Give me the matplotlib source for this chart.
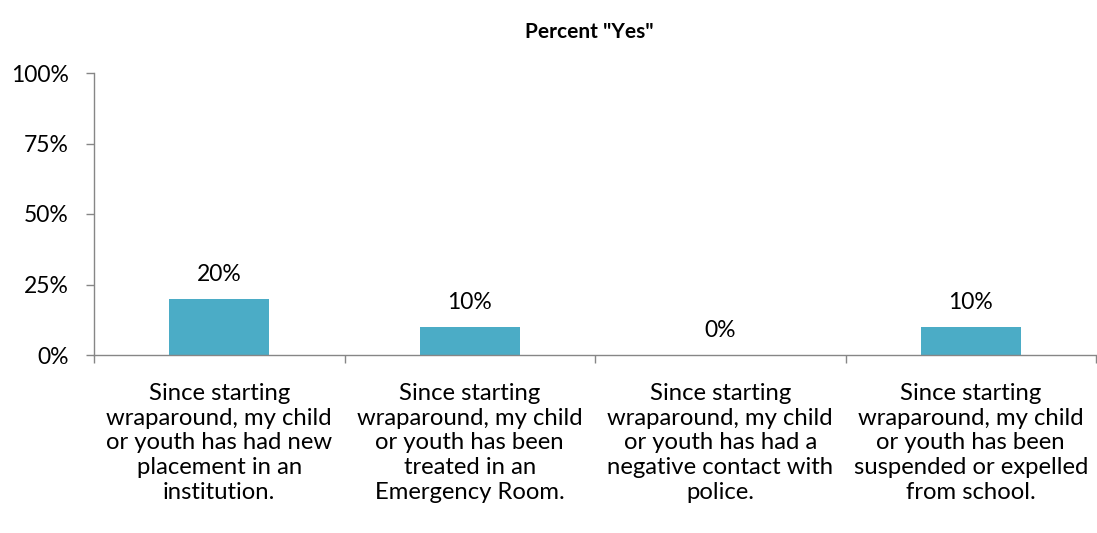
import matplotlib
matplotlib.use("Agg")
import matplotlib.pyplot as plt
from matplotlib.ticker import FixedLocator, PercentFormatter

categories = [
    "Since starting\nwraparound, my child\nor youth has had new\nplacement in an\ninstitution.",
    "Since starting\nwraparound, my child\nor youth has been\ntreated in an\nEmergency Room.",
    "Since starting\nwraparound, my child\nor youth has had a\nnegative contact with\npolice.",
    "Since starting\nwraparound, my child\nor youth has been\nsuspended or expelled\nfrom school.",
]
values = [20, 10, 0, 10]
yticks = [0, 25, 50, 75, 100]
title = 'Percent "Yes"'

plt.rcParams['font.family'] = ['Lato', 'DejaVu Sans']

fig = plt.figure(figsize=(10.97, 5.33), dpi=100)
ax = fig.add_axes([94/1097, 1-355/533, 1002/1097, (355-73)/533])

x = list(range(len(categories)))
ax.bar(x, values, width=0.4, color='#4BACC6', zorder=2)
for xi, v in zip(x, values):
    ax.annotate(f"{v}%", (xi, v), xytext=(0, 13), textcoords='offset points',
                ha='center', va='baseline', fontsize=16.5)

ax.set_xlim(-0.5, len(categories) - 0.5)
ax.set_ylim(0, 100)
ax.set_yticks(yticks)
ax.yaxis.set_major_formatter(PercentFormatter(decimals=0))
ax.xaxis.set_major_locator(FixedLocator([i - 0.5 for i in range(len(categories) + 1)]))
ax.set_xticklabels([])
ax.set_xticks(x, minor=True)
ax.set_xticklabels(categories, minor=True, fontsize=17.2, linespacing=1.22)
ax.tick_params(axis='x', which='minor', length=0, pad=20)
ax.tick_params(axis='x', which='major', length=6, color='#868686', width=1)
ax.tick_params(axis='y', length=6, color='#868686', width=1, labelsize=16.5, pad=12)

for s in ['top', 'right']:
    ax.spines[s].set_visible(False)
for s in ['left', 'bottom']:
    ax.spines[s].set_color('#868686')
    ax.spines[s].set_linewidth(1)

fig.text(589/1097, 1 - 32/533, title, ha='center', va='center', fontsize=15, fontweight='bold')

fig.savefig('out.png', dpi=100)
